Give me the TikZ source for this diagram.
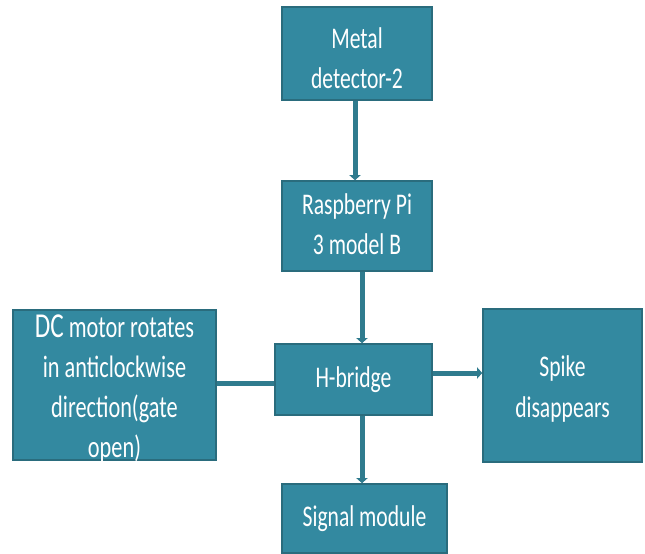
\documentclass[tikz,border=0pt]{standalone}
\usepackage{fontspec}
\setmainfont{Carlito}[FakeStretch=0.72]
\usetikzlibrary{arrows.meta}
\definecolor{boxfill}{HTML}{3389A0}
\definecolor{boxline}{HTML}{2A6C7D}
\definecolor{conn}{HTML}{2F7B8E}
\tikzset{
  blk/.style={draw=boxline, line width=1.6pt, fill=boxfill, text=white, align=center,
    inner sep=0pt, font=\fontsize{30}{40}\selectfont},
  conline/.style={draw=conn, line width=5pt},
  conarr/.style={conline, -{Triangle[length=5pt,width=11pt]}},
}
\begin{document}
\begin{tikzpicture}[x=1pt,y=-1pt]
\useasboundingbox (0,0) rectangle (645,554);
\node[blk, minimum width=150pt, minimum height=93pt] (metal) at (357,53.5) {};
\node[text=white, align=center, font=\fontsize{30}{40}\selectfont] (metalt) at (357,58) {Metal\\detector-2};
\node[blk, minimum width=150pt, minimum height=90pt] (pi) at (357,226) {};
\node[text=white, align=center, font=\fontsize{30}{40}\selectfont] (pit) at (357,224) {Raspberry Pi\\3 model B};
\node[blk, minimum width=157pt, minimum height=71pt] (hb) at (353.5,379.5) {H-bridge};
\node[blk, minimum width=159pt, minimum height=153pt] (spike) at (562.5,385.5) {};
\node[text=white, align=center, font=\fontsize{30}{41}\selectfont] (spiket) at (562.5,389) {Spike\\disappears};
\node[blk, minimum width=203pt, minimum height=150pt] (dc) at (114.5,385) {};
\node[text=white, align=center, font=\fontsize{31}{40}\selectfont] (dctext) at (114.5,389)
  {{\fontsize{35}{40}\selectfont DC} motor rotates\\in anticlockwise\\direction(gate\\open)};
\node[blk, minimum width=165pt, minimum height=69pt] (sig) at (364.5,518.5) {Signal module};
\draw[conarr] ([xshift=-2pt]metal.south) -- ([xshift=-2pt]pi.north);
\draw[conarr] ([xshift=5pt]pi.south) -- ([xshift=8.5pt]hb.north);
\draw[conarr] ([xshift=8.5pt]hb.south) -- ([xshift=8.5pt]hb.south |- sig.north);
\draw[conarr] ([yshift=6.5pt]hb.east) -- ([yshift=6.5pt]hb.east -| spike.west);
\draw[conline] ([yshift=-3.5pt]hb.west) -- ([yshift=-3.5pt]hb.west -| dc.east);
\end{tikzpicture}
\end{document}
